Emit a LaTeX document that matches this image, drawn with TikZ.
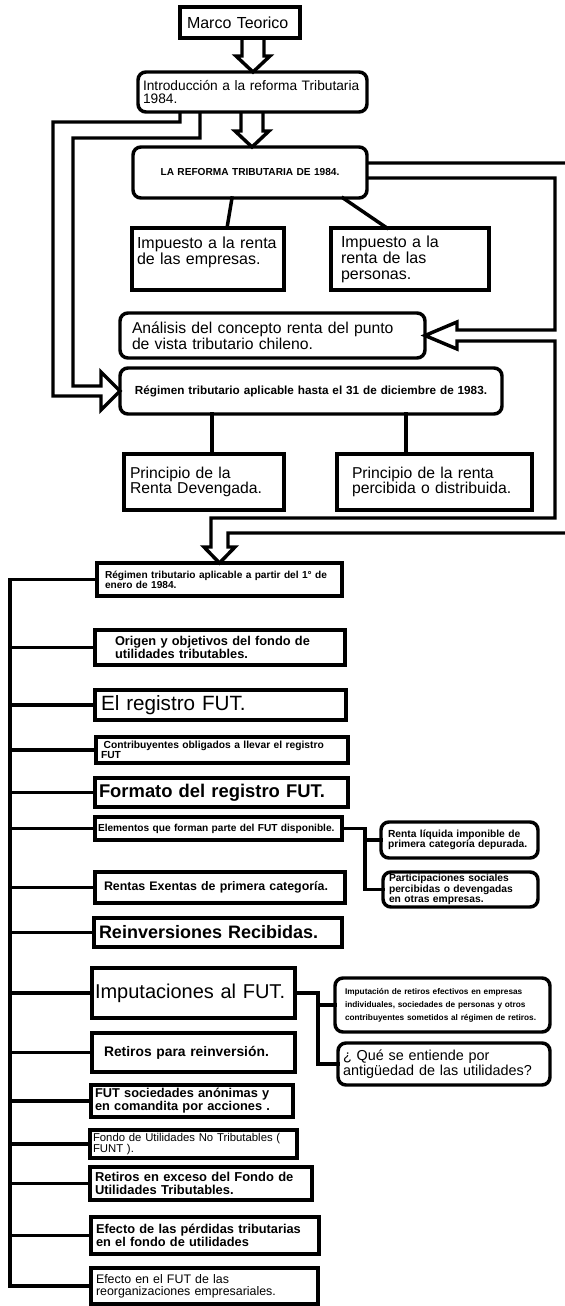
\documentclass[tikz,border=0pt]{standalone}
\usepackage{fontspec}
\setmainfont{Liberation Sans}
\usetikzlibrary{calc}
\begin{document}
\begin{tikzpicture}[x=0.75pt, y=-0.75pt, line join=miter,
	caja/.style={draw, line width=2.6pt, anchor=north west, align=left, inner ysep=0pt, outer sep=0pt},
	redondo/.style={caja, rounded corners=6pt},
	med/.style n args={3}{minimum width=#1*0.75pt, minimum height=#2*0.75pt, text width=(#1-2*#3)*0.75pt, inner xsep=#3*0.75pt},
	fz/.style={font=\fontsize{#1}{#1}\selectfont},
	fzb/.style={font=\fontsize{#1}{#1}\selectfont\bfseries},
	linea/.style={line width=2.6pt, line cap=rect}]
	% flecha hueca hacia abajo: x centro, nodo de arriba, nodo de abajo
	\def\hueca#1#2#3{\draw[linea, line cap=butt] let \p1=(#2.south), \p2=(#3.north) in
		({(#1-11)*0.75pt},\y1) -- ({(#1-11)*0.75pt},{\y2+16*0.75pt}) -- ({(#1-17)*0.75pt},{\y2+16*0.75pt})
		-- ({#1*0.75pt},\y2) -- ({(#1+17)*0.75pt},{\y2+16*0.75pt}) -- ({(#1+11)*0.75pt},{\y2+16*0.75pt})
		-- ({(#1+11)*0.75pt},\y1);}
	\fill[white] (0,0) rectangle (564,1306);
	\useasboundingbox (0,0) rectangle (564,1306);
	% parte alta
	\node[caja, med={120}{31}{7}, fz=12] (marco) at (180,7) {Marco Teorico};
	\node[redondo, med={229}{40}{5}, fz=10.3] (intro) at (138,72) {Introducción a la reforma Tributaria\\1984.};
	\node[redondo, med={234}{51}{5}, fzb=7.6, align=center] (reforma) at (133,147) {LA REFORMA TRIBUTARIA DE 1984.};
	\node[caja, med={152}{62}{5}, fz=12] (imp1) at (132,228) {Impuesto a la renta\\de las empresas.\\\mbox{}};
	\node[caja, med={158}{62}{10}, fz=12] (imp2) at (331,228) {Impuesto a la\\renta de las\\personas.};
	\node[redondo, med={305}{45}{12}, fz=11.8] (analisis) at (120,313) {Análisis del concepto renta del punto\\de vista tributario chileno.};
	\node[redondo, med={382}{46}{5}, fzb=8.8, align=center] (reg83) at (120,368) {Régimen tributario aplicable hasta el 31 de diciembre de 1983.};
	\node[caja, med={160}{56}{6}, fz=11.8] (prin1) at (124,454) {Principio de la\\Renta Devengada.};
	\node[caja, med={195}{56}{15}, fz=11.8] (prin2) at (337,454) {Principio de la renta\\percibida o distribuida.};
	% regimen desde 1984
	\node[caja, med={245}{33}{8}, fzb=7.6] (reg84) at (97,563) {Régimen tributario aplicable a partir del 1° de\\enero de 1984.};
	\node[caja, med={250}{35}{20}, fzb=9.6] (origen) at (95,630) {Origen y objetivos del fondo de\\utilidades tributables.};
	\node[caja, med={251}{30}{6}, fz=15.5] (registro) at (95,690) {El registro FUT.};
	\node[caja, med={252}{26}{5}, fzb=7.7] (contrib) at (96,737) {\hspace*{2pt}Contribuyentes obligados a llevar el registro\\FUT};
	\node[caja, med={253}{29}{4}, fzb=13.8] (formato) at (95,778) {Formato del registro FUT.};
	\node[caja, med={247}{23}{3}, fzb=7.6] (elementos) at (95,817) {Elementos que forman parte del FUT disponible.};
	\node[redondo, med={157}{36}{7}, fzb=7.7] (renta) at (381,822) {Renta líquida imponible de\\primera categoría depurada.};
	\node[redondo, med={155}{35}{6}, fzb=7.7] (particip) at (383,872) {Participaciones sociales\\percibidas o devengadas\\en otras empresas.};
	\node[caja, med={250}{31}{9}, fzb=9.3] (rentas) at (95,872) {Rentas Exentas de primera categoría.};
	\node[caja, med={248}{29}{5}, fzb=13.5] (reinv) at (94,918) {Reinversiones Recibidas.};
	\node[caja, med={203}{50}{3}, fz=15] (imput) at (92,968) {Imputaciones al FUT.};
	\node[redondo, med={215}{54}{10}, font=\fontsize{6.2}{9.7}\selectfont\bfseries] (imputret) at (335,978) {Imputación de retiros efectivos en empresas\\individuales, sociedades de personas y otros\\contribuyentes sometidos al régimen de retiros.};
	\node[redondo, med={212}{42}{5}, fz=10.8] (que) at (338,1043) {¿ Qué se entiende por\\antigüedad de las utilidades?};
	\node[caja, med={203}{39}{12}, fzb=10.4] (retreinv) at (92,1033) {Retiros para reinversión.};
	\node[caja, med={202}{32}{4}, fzb=9.6] (futsoc) at (91,1085) {FUT sociedades anónimas y\\en comandita por acciones .};
	\node[caja, med={207}{28}{3}, fz=8.5] (fondo) at (90,1130) {Fondo de Utilidades No Tributables (\\FUNT ).};
	\node[caja, med={222}{33}{5}, fzb=9.7] (retexc) at (90,1167) {Retiros en exceso del Fondo de\\Utilidades Tributables.};
	\node[caja, med={228}{37}{5}, fzb=9.6] (perdidas) at (91,1217) {Efecto de las pérdidas tributarias\\en el fondo de utilidades};
	\node[caja, med={227}{36}{5}, fz=9.3] (efectofut) at (91,1268) {Efecto en el FUT de las\\reorganizaciones empresariales.};
	% flechas huecas
	\hueca{253}{marco}{intro}
	\hueca{252}{intro}{reforma}
	\draw[linea, line cap=butt] ($(intro.south west)+(42,0)$) |- (53,122) |- (101,396) -- (101,410) -- (reg83.west)
		-- (101,372) -- (101,386) -| (73,138) -| ($(intro.south west)+(62,0)$);
	\draw[linea, line cap=butt] ($(reforma.north east)+(0,16)$) -- (567,163) |- (228,533) -- (228,547) -- (235,547) -- (reg84.north)
		-- (204,547) -- (211,547) |- (555,518) -- (555,341) -- (457,341) -- (457,349) -- (analisis.east)
		-- (457,322) -- (457,330) -| (555,178) -- ($(reforma.north east)+(0,31)$);
	% lineas simples
	\draw[linea] ($(reforma.south west)+(99,0)$) -- ($(imp1.north west)+(95,0)$);
	\draw[linea] ($(reforma.south west)+(210,0)$) -- ($(imp2.north west)+(56,0)$);
	\draw[linea] ($(reg83.south west)+(92,0)$) -- ($(prin1.north west)+(88,0)$);
	\draw[linea] ($(reg83.south west)+(286,0)$) -- ($(prin2.north west)+(69,0)$);
	\coordinate (bus) at (10,0);
	\draw[linea] (bus |- reg84.west) -- (bus |- efectofut.west);
	\foreach \n in {reg84,origen,registro,contrib,formato,elementos,rentas,reinv,imput,retreinv,futsoc,fondo,retexc,perdidas,efectofut}{
		\draw[linea] (bus |- \n.west) -- (\n.west);
	}
	\coordinate (e1) at (365,0);
	\draw[linea] (elementos.east) -| (e1 |- particip.west) -- (particip.west);
	\draw[linea] (e1 |- renta.west) -- (renta.west);
	\coordinate (e2) at (318,0);
	\draw[linea] (imput.east) -| (e2 |- que.west) -- (que.west);
	\draw[linea] (e2 |- imputret.west) -- (imputret.west);
\end{tikzpicture}
\end{document}
